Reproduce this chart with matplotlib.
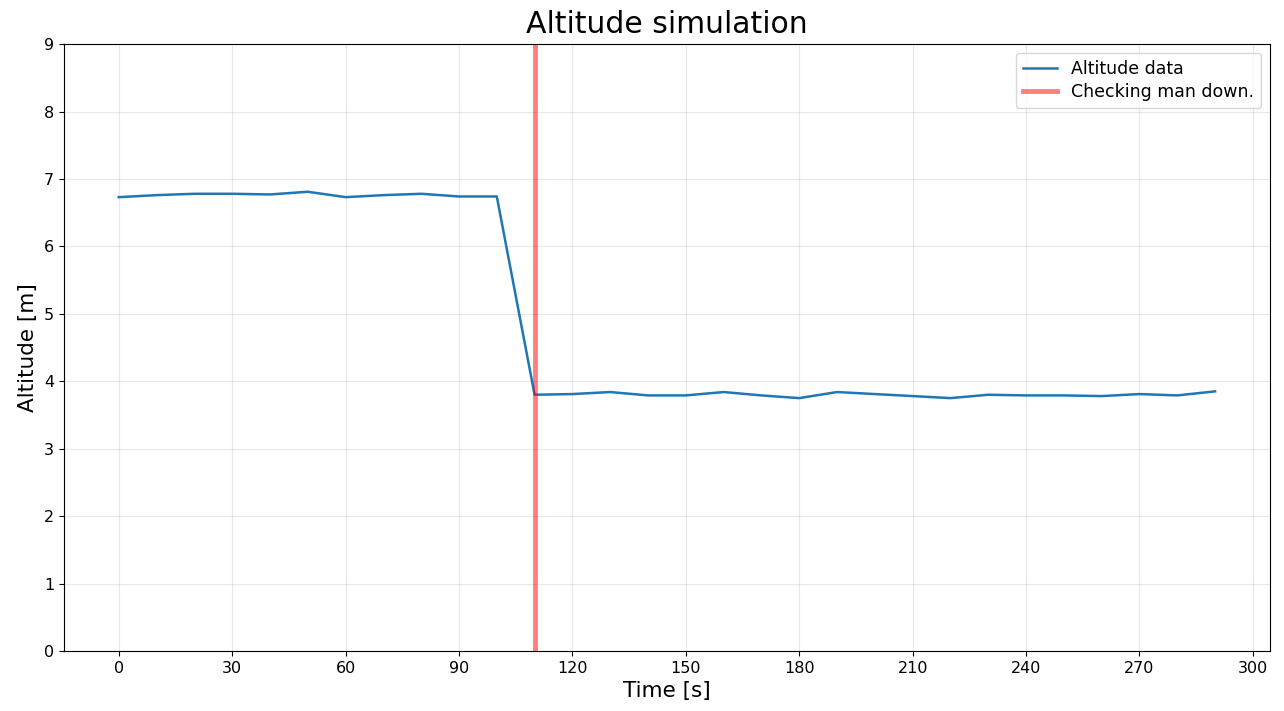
import matplotlib
matplotlib.use("Agg")
import matplotlib.pyplot as plt
import numpy as np

time_s = list(range(0, 300, 10))
altitude = [6.73, 6.76, 6.78, 6.78, 6.77, 6.81, 6.73, 6.76, 6.78, 6.74, 6.74,
            3.80, 3.81, 3.84, 3.79, 3.79, 3.84, 3.79, 3.75, 3.84, 3.81,
            3.78, 3.75, 3.80, 3.79, 3.79, 3.78, 3.81, 3.79, 3.85]
man_down_time = 110
xticks = list(range(0, 301, 30))
yticks = list(range(0, 10))

fig = plt.figure(figsize=(12.84, 7.11), dpi=100)
ax = fig.add_axes([0.0498, 0.0844, 0.9392, 0.8536])
ax.plot(time_s, altitude, color="#1f77b4", lw=1.8, label="Altitude data")
ax.axvline(man_down_time, color="red", alpha=0.5, lw=3.5, label="Checking man down.")
ax.set_ylim(0, 9)
ax.set_xticks(xticks)
ax.set_yticks(yticks)
ax.grid(True, alpha=0.3)
ax.tick_params(labelsize=11.5)
ax.set_xlabel("Time [s]", fontsize=15.5)
ax.set_ylabel("Altitude [m]", fontsize=15.5)
ax.set_title("Altitude simulation", fontsize=21.5, pad=8)
ax.legend(loc="upper right", fontsize=12.5, labelspacing=0.3)
fig.savefig("out.png", dpi=100)
